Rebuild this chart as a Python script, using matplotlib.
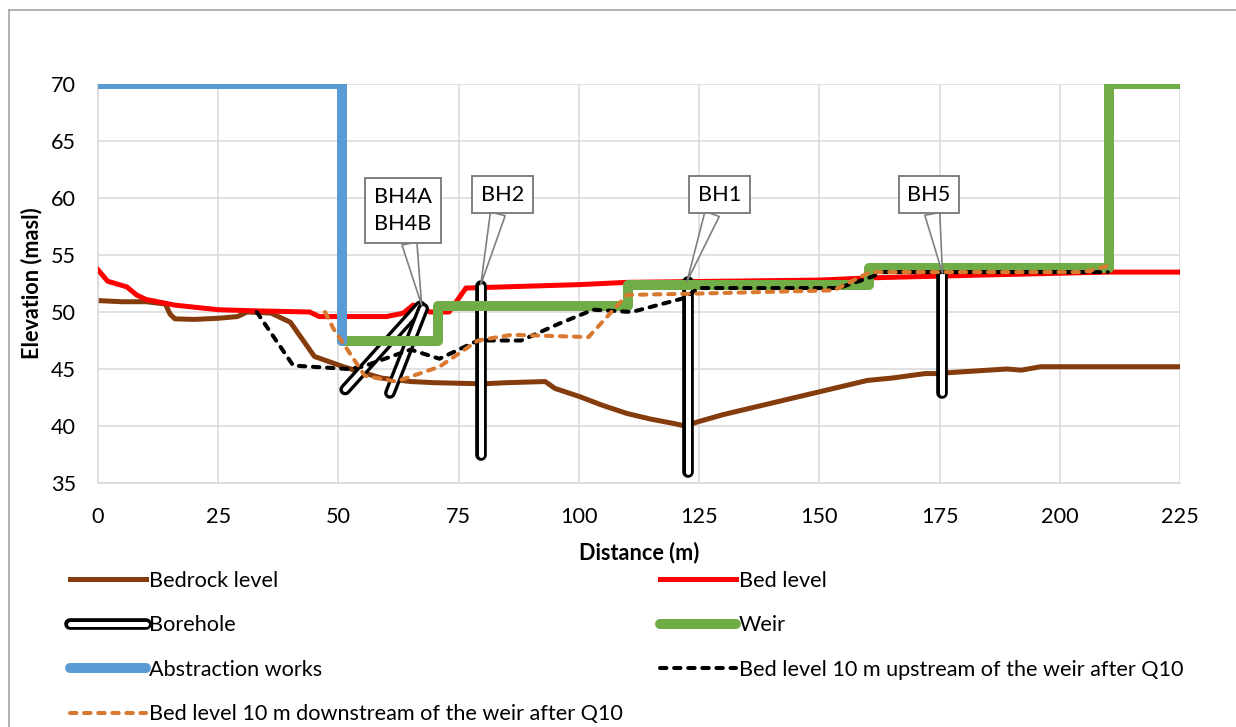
import matplotlib.pyplot as plt
import numpy as np
from matplotlib import patheffects as pe
from matplotlib.lines import Line2D

plt.rcParams['font.family'] = ['Lato', 'DejaVu Sans']
FS = 15.6

# cross-section data (distance in m, elevation in masl)
bedrock_x = [0, 5, 10, 14, 15, 16, 20, 25, 29, 31, 36, 40, 45, 51, 59, 65, 70, 80, 85, 93, 95,
             100, 105, 110, 115, 120, 122, 125, 130, 140, 150, 160, 165, 172, 174, 189, 192, 196, 225]
bedrock_y = [51.0, 50.9, 50.9, 50.7, 49.8, 49.4, 49.35, 49.45, 49.6, 50.0, 49.9, 49.1, 46.1, 45.2,
             44.2, 43.9, 43.8, 43.7, 43.8, 43.9, 43.3, 42.6, 41.8, 41.1, 40.6, 40.2, 40.0, 40.4,
             41.0, 42.0, 43.0, 44.0, 44.2, 44.6, 44.6, 45.0, 44.9, 45.2, 45.2]

bed_x = [0, 2, 6, 8, 10, 16, 25, 33, 44, 46, 60, 63.5, 65.5, 67, 69, 73, 76.5, 100, 110, 130,
         150, 161, 180, 200, 210, 225]
bed_y = [53.7, 52.7, 52.2, 51.5, 51.1, 50.6, 50.2, 50.1, 50.0, 49.6, 49.6, 49.9, 50.6, 50.5,
         50.0, 50.0, 52.1, 52.4, 52.6, 52.7, 52.8, 53.0, 53.2, 53.4, 53.5, 53.5]

# boreholes: start and end points of each hole
bh_x = [[67.0, 51.4], [67.6, 60.7], [79.6, 79.6], [122.6, 122.6], [175.6, 175.6]]
bh_y = [[50.5, 43.2], [50.3, 42.9], [52.3, 37.5], [52.6, 36.0], [53.3, 42.9]]

weir_x = [50.7, 70.7, 70.7, 110.3, 110.3, 160.3, 160.3, 210.3, 210.3, 225]
weir_y = [47.5, 47.5, 50.5, 50.5, 52.4, 52.4, 53.9, 53.9, 70, 70]

abstr_x = [0, 50.7, 50.7]
abstr_y = [70, 70, 47.5]

up_x = [33, 40.6, 52, 55, 65, 71, 79, 88, 96, 103, 111, 121.7, 125, 154, 161, 163, 210]
up_y = [50.0, 45.3, 45.0, 45.2, 46.7, 45.9, 47.5, 47.5, 49.0, 50.2, 50.0, 51.2, 52.1, 52.1,
        53.1, 53.5, 53.5]

down_x = [47.2, 49, 55.5, 62, 71, 79, 86, 102, 110, 123, 153, 160.5, 205, 210.5]
down_y = [50.0, 48.5, 44.4, 43.9, 45.2, 47.5, 48.0, 47.8, 51.5, 51.6, 51.9, 53.5, 53.5, 54.1]

# callout labels: text, point on borehole, label centre
bh_names = ['BH4A\nBH4B', 'BH2', 'BH1', 'BH5']
bh_tip = [(67.3, 50.6), (79.6, 52.4), (122.5, 52.7), (175.6, 53.4)]
bh_box = [(63.4, 58.9), (84.1, 60.3), (129.2, 60.3), (172.8, 60.3)]

fig = plt.figure(figsize=(12.36, 7.27), dpi=100)
ax = fig.add_axes([0.0793, 0.3356, 0.8754, 0.5489])

ax.plot(bedrock_x, bedrock_y, color='#843c0c', lw=3.6, label='Bedrock level', zorder=2,
        solid_joinstyle='round')
ax.plot(bed_x, bed_y, color='#ff0000', lw=3.6, label='Bed level', zorder=3,
        solid_joinstyle='round')
bh_fx = [pe.Stroke(linewidth=8.4, foreground='black'), pe.Normal()]
for i in range(len(bh_x)):
    ax.plot(bh_x[i], bh_y[i], color='white', lw=3.6, solid_capstyle='round',
            path_effects=bh_fx, zorder=4, label='Borehole' if i == 0 else None)
ax.plot(weir_x, weir_y, color='#70ad47', lw=7.2, label='Weir', zorder=5,
        solid_joinstyle='round', solid_capstyle='round')
ax.plot(abstr_x, abstr_y, color='#5b9bd5', lw=7.2, label='Abstraction works', zorder=6,
        solid_joinstyle='round', solid_capstyle='round')
ax.plot(up_x, up_y, color='black', lw=2.9, dashes=(1.6, 1.9), dash_capstyle='round',
        label='Bed level 10 m upstream of the weir after Q10', zorder=7)
ax.plot(down_x, down_y, color='#d9782f', lw=2.9, dashes=(1.6, 1.9), dash_capstyle='round',
        label='Bed level 10 m downstream of the weir after Q10', zorder=8)

for name, tip, box in zip(bh_names, bh_tip, bh_box):
    ax.annotate(name, xy=tip, xytext=box, ha='center', va='center', fontsize=FS,
                linespacing=1.45, zorder=10,
                bbox=dict(boxstyle='square,pad=0.4', fc='white', ec='#7f7f7f', lw=1.4),
                arrowprops=dict(arrowstyle='wedge,tail_width=0.7,shrink_factor=0.5',
                                fc='white', ec='#7f7f7f', lw=1.2, shrinkA=0, shrinkB=0))

ax.set_xlim(0, 225)
ax.set_ylim(35, 70)
ax.set_xticks(np.arange(0, 226, 25))
ax.set_yticks(np.arange(35, 71, 5))
ax.grid(True, color='#d9d9d9', lw=1.1, zorder=0)
ax.set_axisbelow(True)
for s in ['top', 'right']:
    ax.spines[s].set_visible(False)
for s in ['left', 'bottom']:
    ax.spines[s].set_color('#d9d9d9')
    ax.spines[s].set_linewidth(1.1)
ax.tick_params(length=0, labelsize=FS)
ax.tick_params(axis='y', pad=16)
ax.tick_params(axis='x', pad=17)
ax.set_xlabel('Distance (m)', fontsize=FS, fontweight='bold', labelpad=11)
ax.set_ylabel('Elevation (masl)', fontsize=FS, fontweight='bold', labelpad=6)

# legend in two fixed columns
h, l = ax.get_legend_handles_labels()
lkw = dict(frameon=False, fontsize=FS, handlelength=3.5, handletextpad=0.15,
           labelspacing=1.13, borderpad=0, borderaxespad=0, loc='upper left')
fig.legend([h[0], h[2], h[4], h[6]], [l[0], l[2], l[4], l[6]],
           bbox_to_anchor=(70 / 1236, 1 - 571 / 727), **lkw)
fig.legend([h[1], h[3], h[5]], [l[1], l[3], l[5]],
           bbox_to_anchor=(660 / 1236, 1 - 571 / 727), **lkw)

# chart area frame
fig.add_artist(Line2D([9 / 1236, 9 / 1236], [0, 1 - 10 / 727], color='#a6a6a6', lw=1.2))
fig.add_artist(Line2D([9 / 1236, 1], [1 - 10 / 727, 1 - 10 / 727], color='#a6a6a6', lw=1.2))

fig.savefig('out.png', dpi=100)
